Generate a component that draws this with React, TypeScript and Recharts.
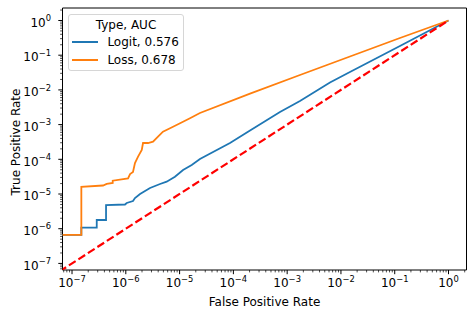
import { ComposedChart, Line, XAxis, YAxis, Legend, ReferenceArea } from "recharts";

// ROC curves on log-log axes.
// fpr 1e-9 stands in for 0 (clipped at the left edge, like matplotlib does).
const logitFpr = [1e-9, 1.49e-7, 1.49e-7, 2.88e-7, 2.88e-7, 4.29e-7, 4.29e-7, 9.66e-7, 1.04e-6, 1.36e-6, 1.48e-6, 1.84e-6, 2.82e-6, 4.33e-6, 5.75e-6, 8.2e-6, 1.16e-5, 1.68e-5, 2.39e-5, 8.65e-5, 2.04e-4, 7.35e-4, 1.73e-3, 6.25e-3, 1.47e-2, 0.125, 1];
const logitTpr = [6.61e-7, 6.61e-7, 1.07e-6, 1.07e-6, 1.78e-6, 1.78e-6, 4.82e-6, 4.98e-6, 5.51e-6, 6.28e-6, 7.67e-6, 1.0e-5, 1.49e-5, 1.94e-5, 2.26e-5, 3.15e-5, 4.92e-5, 6.85e-5, 1.02e-4, 2.95e-4, 6.76e-4, 2.31e-3, 4.79e-3, 1.63e-2, 3.28e-2, 0.184, 1];

const lossFpr = [1e-9, 1.49e-7, 1.49e-7, 3.77e-7, 4.42e-7, 5.71e-7, 5.71e-7, 1.1e-6, 1.2e-6, 1.36e-6, 1.48e-6, 1.69e-6, 1.98e-6, 2.09e-6, 2.59e-6, 3.21e-6, 3.97e-6, 4.91e-6, 6.64e-6, 1.02e-5, 1.56e-5, 2.39e-5, 2.04e-4, 1.73e-3, 1.47e-2, 0.125, 1];
const lossTpr = [6.61e-7, 6.61e-7, 1.62e-5, 1.76e-5, 1.95e-5, 2.09e-5, 2.42e-5, 2.83e-5, 3.77e-5, 4.31e-5, 7.82e-5, 1.19e-4, 1.85e-4, 2.95e-4, 2.95e-4, 3.21e-4, 4.48e-4, 6.24e-4, 7.82e-4, 1.09e-3, 1.52e-3, 2.16e-3, 7.78e-3, 2.69e-2, 9.18e-2, 0.313, 1];

const chanceRate = [1e-9, 1];

const seriesNames = ["Logit, 0.576", "Loss, 0.678"];
const legendTitle = "Type, AUC";

const decades = [-8, -7, -6, -5, -4, -3, -2, -1, 0];
const minorSubs = [1, 2, 3, 4, 5, 6, 7, 8, 9];

const X_MIN = 6.65e-8;
const X_MAX = 2.16;
const Y_MIN = 6.46e-8;
const Y_MAX = 2.29;

const BLUE = "#1f77b4";
const ORANGE = "#ff7f0e";
const FONT = "DejaVu Sans";

const makeTicks = (lo: number, hi: number) => {
  const out: number[] = [];
  decades.forEach((d) => minorSubs.forEach((s) => {
    const v = s * Math.pow(10, d);
    if (v >= lo && v <= hi) out.push(v);
  }));
  return out;
};

const xTicks = makeTicks(X_MIN, X_MAX);
const yTicks = makeTicks(Y_MIN, Y_MAX);

const toPoints = (xs: number[], ys: number[]) => xs.map((x, i) => ({ x, y: ys[i] }));
const logitData = toPoints(logitFpr, logitTpr);
const lossData = toPoints(lossFpr, lossTpr);
const chanceData = toPoints(chanceRate, chanceRate);

const tickInfo = (v: number) => {
  const e = Math.round(Math.log10(v));
  const major = Math.abs(Math.log10(v) - e) < 1e-6;
  return { major, exp: e < 0 ? "\u2212" + -e : String(e) };
};

const XTick = (props: any) => {
  const { x, y, payload } = props;
  const { major, exp } = tickInfo(payload.value);
  return (
    <g>
      <line x1={x} x2={x} y1={y} y2={y + (major ? 4.2 : 2.4)} stroke="#000" strokeWidth={major ? 1 : 0.7} />
      {major && (
        <text x={x} y={y + 16.7} textAnchor="middle" fontSize={12} fontFamily={FONT} fill="#000">
          <tspan>10</tspan>
          <tspan dy={-5} fontSize={8.4}>{exp}</tspan>
        </text>
      )}
    </g>
  );
};

const YTick = (props: any) => {
  const { x, y, payload } = props;
  const { major, exp } = tickInfo(payload.value);
  return (
    <g>
      <line x1={x} x2={x - (major ? 4.2 : 2.4)} y1={y} y2={y} stroke="#000" strokeWidth={major ? 1 : 0.7} />
      {major && (
        <text x={x - 11.5} y={y + 6.3} textAnchor="end" fontSize={12} fontFamily={FONT} fill="#000">
          <tspan>10</tspan>
          <tspan dy={-5.6} fontSize={8.4}>{exp}</tspan>
        </text>
      )}
    </g>
  );
};

const XLabel = (props: any) => {
  const { viewBox } = props;
  return (
    <text x={viewBox.x + viewBox.width / 2} y={viewBox.y + 36} textAnchor="middle" fontSize={12} fontFamily={FONT} fill="#000">
      False Positive Rate
    </text>
  );
};

const YLabel = (props: any) => {
  const { viewBox } = props;
  const cx = 20;
  const cy = viewBox.y + viewBox.height / 2 + 3;
  return (
    <text x={cx} y={cy} transform={`rotate(-90 ${cx} ${cy})`} textAnchor="middle" fontSize={12} fontFamily={FONT} fill="#000">
      True Positive Rate
    </text>
  );
};

const LegendBox = () => {
  const row = (top: number, color: string, label: string) => (
    <div style={{ position: "absolute", top, left: 0, right: 0, height: 14 }}>
      <div style={{ position: "absolute", left: 3.4, top: 6.1, width: 25.6, height: 1.8, background: color }} />
      <div style={{ position: "absolute", left: 38.4, top: 0, whiteSpace: "nowrap" }}>{label}</div>
    </div>
  );
  return (
    <div
      style={{
        position: "relative",
        width: 116,
        height: 57,
        boxSizing: "border-box",
        border: "1px solid #d6d6d6",
        borderRadius: 3,
        background: "rgba(255,255,255,0.8)",
        fontFamily: FONT,
        fontSize: 12,
        lineHeight: "14px",
        color: "#000",
      }}
    >
      <div style={{ position: "absolute", top: 3, left: 0, right: 0, textAlign: "center" }}>{legendTitle}</div>
      {row(20.3, BLUE, seriesNames[0])}
      {row(38, ORANGE, seriesNames[1])}
    </div>
  );
};

export default function App() {
  return (
    <div style={{ position: "absolute", left: 0, top: 0, width: 476, height: 318, background: "#fff" }}>
      <ComposedChart width={476} height={318} margin={{ top: 8, right: 9.5, bottom: 0, left: 0 }}>
        <XAxis
          dataKey="x"
          type="number"
          scale="log"
          domain={[X_MIN, X_MAX]}
          allowDataOverflow
          ticks={xTicks}
          interval={0}
          tick={<XTick />}
          tickLine={false}
          axisLine={false}
          tickSize={0}
          tickMargin={0}
          height={48}
          label={<XLabel />}
        />
        <YAxis
          dataKey="y"
          type="number"
          scale="log"
          domain={[Y_MIN, Y_MAX]}
          allowDataOverflow
          ticks={yTicks}
          interval={0}
          tick={<YTick />}
          tickLine={false}
          axisLine={false}
          tickSize={0}
          tickMargin={0}
          width={62.5}
          label={<YLabel />}
        />
        <Line data={logitData} dataKey="y" type="linear" stroke={BLUE} strokeWidth={1.8} dot={false} isAnimationActive={false} />
        <Line data={lossData} dataKey="y" type="linear" stroke={ORANGE} strokeWidth={1.8} dot={false} isAnimationActive={false} />
        <Line data={chanceData} dataKey="y" type="linear" stroke="#ff0000" strokeWidth={2.2} strokeDasharray="8 3.3" dot={false} isAnimationActive={false} />
        <ReferenceArea x1={X_MIN} x2={X_MAX} y1={Y_MIN} y2={Y_MAX} fill="none" stroke="#000" strokeWidth={1} ifOverflow="visible" />
        <Legend layout="vertical" align="center" verticalAlign="middle" wrapperStyle={{ left: 68, top: 14, width: 116, height: 57 }} content={() => <LegendBox />} />
      </ComposedChart>
    </div>
  );
}
